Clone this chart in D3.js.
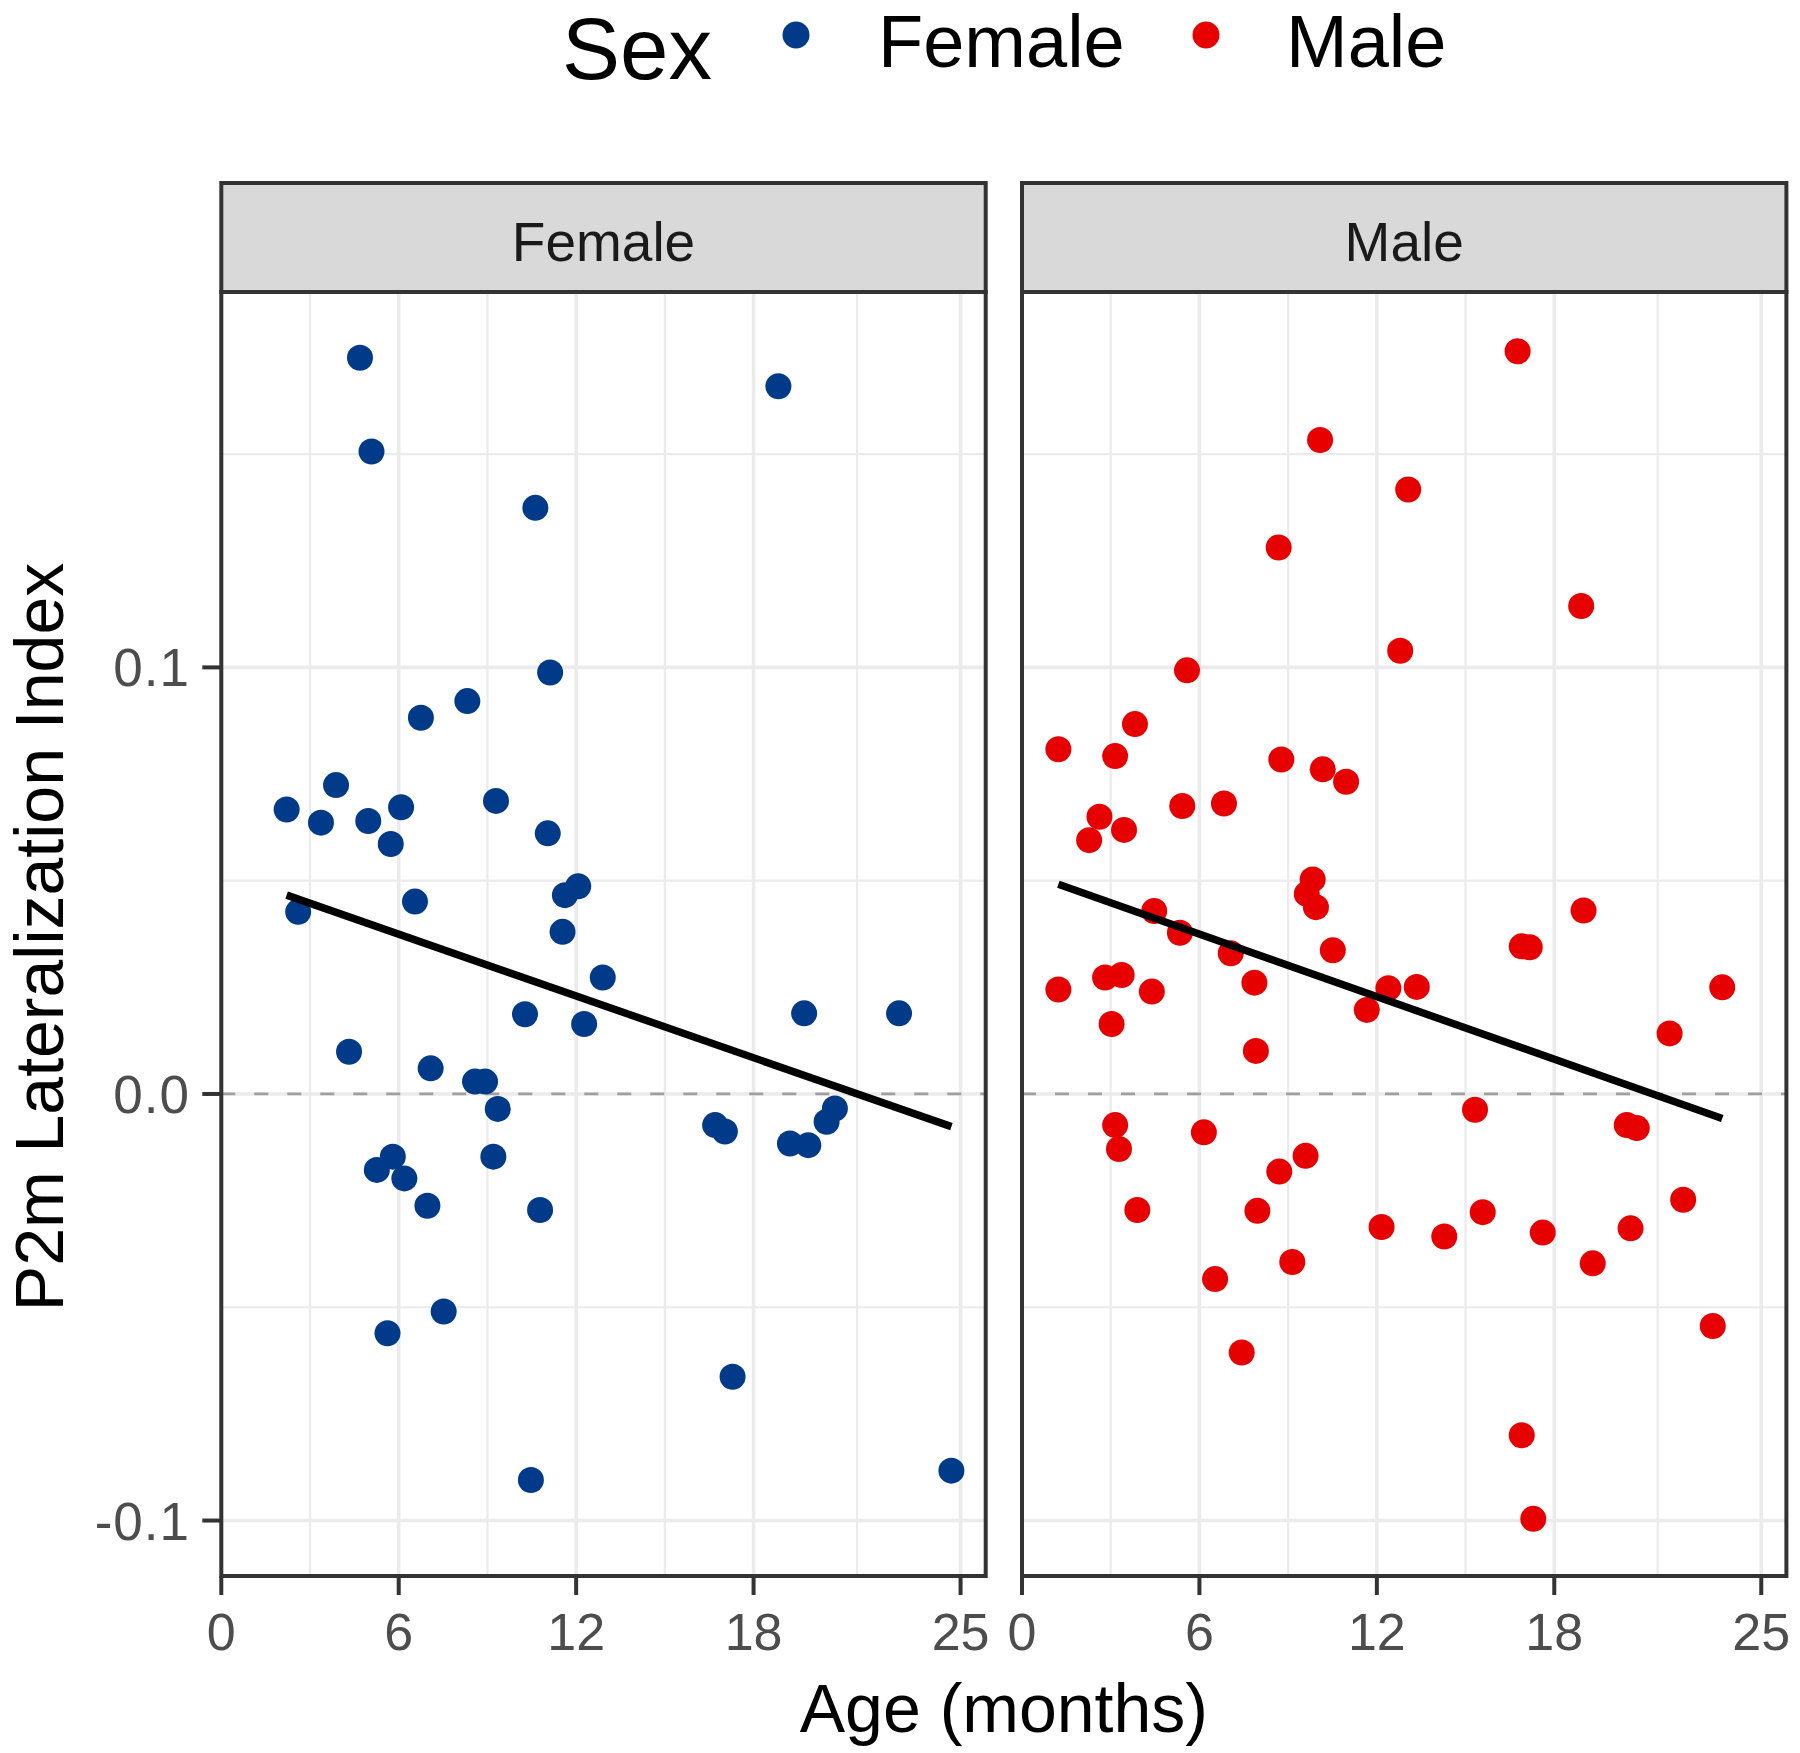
<!DOCTYPE html>
<html>
<head>
<meta charset="utf-8">
<script src="https://cdn.jsdelivr.net/npm/d3@7"></script>
<style>
  html, body { margin: 0; padding: 0; background: #ffffff; }
  svg { display: block; }
  text { font-family: "Liberation Sans", Arial, Helvetica, sans-serif; }
</style>
</head>
<body>
<svg id="chart" width="1800" height="1753"></svg>
<script>
// ---------- data ----------
const facets = ["Female", "Male"];
const legendTitle = "Sex";
const xTitle = "Age (months)";
const yTitle = "P2m Lateralization Index";

const xBreaks = [0, 6, 12, 18, 25];
const xMinor = [3, 9, 15, 21.5];
const xLimits = [0, 25.85];
const yBreaks = [-0.1, 0.0, 0.1];
const yLabels = ["-0.1", "0.0", "0.1"];
const yMinor = [-0.05, 0.05, 0.15];
const yLimits = [-0.113, 0.188];

const femaleAge = [4.69, 5.08, 18.84, 10.62, 11.12, 8.32, 6.75, 2.21, 3.88, 3.37,
  4.97, 6.08, 5.73, 9.29, 11.04, 2.60, 6.55, 11.62, 12.07, 11.54,
  12.90, 10.27, 12.27, 19.71, 22.92, 4.32, 7.08, 8.58, 8.92, 9.35,
  16.70, 17.03, 19.23, 19.85, 20.47, 20.75, 5.26, 5.80, 6.19, 9.20,
  6.97, 10.78, 5.62, 7.52, 17.29, 10.47, 24.69];
const femaleVal = [0.1726, 0.1506, 0.1659, 0.1374, 0.0988, 0.0921, 0.0882, 0.0667, 0.0724, 0.0636,
  0.0640, 0.0672, 0.0586, 0.0687, 0.0611, 0.0427, 0.0451, 0.0466, 0.0487, 0.0380,
  0.0273, 0.0187, 0.0164, 0.0189, 0.0189, 0.0099, 0.0060, 0.0029, 0.0029, -0.0035,
  -0.0073, -0.0088, -0.0116, -0.0120, -0.0065, -0.0034, -0.0178, -0.0147, -0.0198, -0.0147,
  -0.0262, -0.0272, -0.0561, -0.0510, -0.0663, -0.0905, -0.0883];

const maleAge = [16.76, 10.08, 13.06, 8.68, 18.91, 12.79, 5.58, 3.82, 1.23, 3.15,
  8.77, 10.17, 10.96, 6.83, 5.42, 2.62, 3.45, 2.27, 9.83, 9.63,
  9.94, 4.47, 18.99, 5.34, 10.51, 16.90, 17.17, 7.06, 2.81, 3.37,
  1.23, 4.39, 7.86, 12.39, 13.35, 23.68, 11.66, 3.03, 21.90, 7.91,
  15.32, 3.15, 3.28, 6.15, 20.45, 20.79, 9.59, 8.70, 3.90, 7.96,
  15.58, 22.36, 12.16, 14.28, 17.61, 20.58, 6.53, 9.14, 19.30, 7.43,
  23.36, 16.90, 17.29];
const maleVal = [0.1741, 0.1533, 0.1417, 0.1281, 0.1144, 0.1039, 0.0993, 0.0867, 0.0808, 0.0792,
  0.0784, 0.0761, 0.0732, 0.0681, 0.0675, 0.0650, 0.0619, 0.0595, 0.0503, 0.0469,
  0.0438, 0.0429, 0.0430, 0.0378, 0.0337, 0.0346, 0.0344, 0.0330, 0.0273, 0.0279,
  0.0245, 0.0240, 0.0261, 0.0248, 0.0251, 0.0250, 0.0197, 0.0164, 0.0142, 0.0101,
  -0.0037, -0.0073, -0.0129, -0.0090, -0.0073, -0.0080, -0.0145, -0.0182, -0.0272, -0.0274,
  -0.0277, -0.0248, -0.0312, -0.0334, -0.0325, -0.0315, -0.0434, -0.0394, -0.0397, -0.0606,
  -0.0544, -0.0800, -0.0996];

// linear fits (intercept, slope per month)
const fitIntercept = [0.05194, 0.05215];
const fitSlope = [-0.002414, -0.002445];

const seriesColors = ["#003A88", "#E60000"];

// ---------- layout ----------
const svg = d3.select("#chart");
svg.append("rect").attr("width", 1800).attr("height", 1753).attr("fill", "#ffffff");

const panelLeft = [221.3, 1022];
const panelW = 764.4;
const stripTop = 183, panelTop = 292, panelBottom = 1576;
const borderW = 4;

const y = d3.scaleLinear().domain(yLimits).range([panelBottom, panelTop]);

const seriesData = [
  { ages: femaleAge, vals: femaleVal },
  { ages: maleAge, vals: maleVal }
];

facets.forEach((name, i) => {
  const left = panelLeft[i];
  const x = d3.scaleLinear().domain(xLimits).range([left, left + panelW]);
  const g = svg.append("g");

  // minor grid
  g.selectAll(".vminor").data(xMinor).join("line")
    .attr("x1", d => x(d)).attr("x2", d => x(d))
    .attr("y1", panelTop).attr("y2", panelBottom)
    .attr("stroke", "#EBEBEB").attr("stroke-width", 2.2);
  g.selectAll(".hminor").data(yMinor).join("line")
    .attr("x1", left).attr("x2", left + panelW)
    .attr("y1", d => y(d)).attr("y2", d => y(d))
    .attr("stroke", "#EBEBEB").attr("stroke-width", 2.2);
  // major grid
  g.selectAll(".vmajor").data(xBreaks).join("line")
    .attr("x1", d => x(d)).attr("x2", d => x(d))
    .attr("y1", panelTop).attr("y2", panelBottom)
    .attr("stroke", "#EBEBEB").attr("stroke-width", 3.6);
  g.selectAll(".hmajor").data(yBreaks).join("line")
    .attr("x1", left).attr("x2", left + panelW)
    .attr("y1", d => y(d)).attr("y2", d => y(d))
    .attr("stroke", "#EBEBEB").attr("stroke-width", 3.6);

  // zero dashed reference
  g.append("line")
    .attr("x1", left).attr("x2", left + panelW)
    .attr("y1", y(0)).attr("y2", y(0))
    .attr("stroke", "#A0A0A0").attr("stroke-width", 2.8)
    .attr("stroke-dasharray", "14,19");

  // points
  const s = seriesData[i];
  g.selectAll(".pt").data(s.ages.map((a, k) => [a, s.vals[k]])).join("circle")
    .attr("cx", d => x(d[0])).attr("cy", d => y(d[1]))
    .attr("r", 13).attr("fill", seriesColors[i]);

  // fitted line over the data range
  const ext = d3.extent(s.ages);
  const fit = ext.map(a => [a, fitIntercept[i] + fitSlope[i] * a]);
  g.append("path")
    .attr("d", d3.line().x(d => x(d[0])).y(d => y(d[1]))(fit))
    .attr("fill", "none").attr("stroke", "#000").attr("stroke-width", 7.5);

  // panel border
  g.append("rect")
    .attr("x", left).attr("y", panelTop).attr("width", panelW).attr("height", panelBottom - panelTop)
    .attr("fill", "none").attr("stroke", "#333333").attr("stroke-width", borderW);

  // strip
  g.append("rect")
    .attr("x", left).attr("y", stripTop).attr("width", panelW).attr("height", panelTop - stripTop)
    .attr("fill", "#D9D9D9").attr("stroke", "#333333").attr("stroke-width", borderW);
  g.append("text")
    .attr("x", left + panelW / 2).attr("y", 261)
    .attr("text-anchor", "middle").attr("font-size", 55).attr("fill", "#1A1A1A")
    .text(name);

  // x axis ticks & labels
  g.selectAll(".xt").data(xBreaks).join("line")
    .attr("x1", d => x(d)).attr("x2", d => x(d))
    .attr("y1", panelBottom).attr("y2", panelBottom + 19)
    .attr("stroke", "#333333").attr("stroke-width", borderW);
  g.selectAll(".xl").data(xBreaks).join("text")
    .attr("x", d => x(d)).attr("y", 1650)
    .attr("text-anchor", "middle").attr("font-size", 52).attr("fill", "#4D4D4D")
    .text(d => String(d));

  if (i === 0) {
    g.selectAll(".yt").data(yBreaks).join("line")
      .attr("x1", left - 19).attr("x2", left)
      .attr("y1", d => y(d)).attr("y2", d => y(d))
      .attr("stroke", "#333333").attr("stroke-width", borderW);
    g.selectAll(".yl").data(yBreaks).join("text")
      .attr("x", 190).attr("y", d => y(d) + 19)
      .attr("text-anchor", "end").attr("font-size", 53).attr("letter-spacing", 1)
      .attr("fill", "#4D4D4D")
      .text((d, k) => yLabels[k]);
  }
});

// axis titles
svg.append("text")
  .attr("x", (panelLeft[0] + panelLeft[1] + panelW) / 2).attr("y", 1732)
  .attr("text-anchor", "middle").attr("font-size", 68).attr("fill", "#000")
  .text(xTitle);
svg.append("text")
  .attr("transform", `translate(63, ${(panelTop + panelBottom) / 2 + 3}) rotate(-90)`)
  .attr("text-anchor", "middle").attr("font-size", 68).attr("fill", "#000")
  .text(yTitle);

// legend
const lg = svg.append("g");
lg.append("text").attr("x", 562).attr("y", 79).attr("font-size", 87).attr("fill", "#000").text(legendTitle);
const legendDotX = [796, 1206];
const legendTextX = [878, 1286];
facets.forEach((name, i) => {
  lg.append("circle").attr("cx", legendDotX[i]).attr("cy", 35).attr("r", 13.5).attr("fill", seriesColors[i]);
  lg.append("text").attr("x", legendTextX[i]).attr("y", 67).attr("font-size", 74).attr("fill", "#000").text(name);
});
</script>
</body>
</html>
